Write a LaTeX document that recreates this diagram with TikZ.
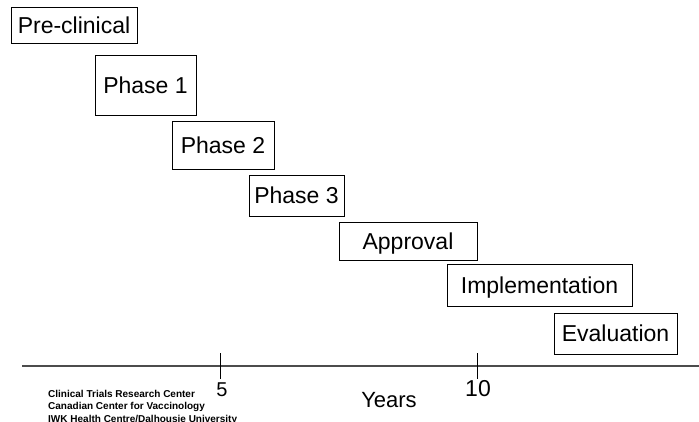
\documentclass[tikz,border=0pt]{standalone}
\usepackage{fontspec}
\setmainfont{Liberation Sans}
\begin{document}
\begin{tikzpicture}[x=1pt,y=-1pt,
  phase/.style={draw=black, line width=0.9pt, inner sep=0pt, text height=16.5pt, text depth=0pt,
    font=\fontsize{23}{27}\selectfont},
  axislbl/.style={inner sep=0pt, font=\fontsize{22}{26}\selectfont},
  footer/.style={inner sep=0pt, anchor=base west, font=\fontsize{10}{12}\selectfont\bfseries},
  axisline/.style={draw=black!70, line width=1.3pt},
  tick/.style={draw=black, line width=0.9pt}]
\useasboundingbox (0,0) rectangle (699,421);
\node[phase, minimum width=126pt, minimum height=36pt] (pre) at (74,25) {Pre-clinical};
\node[phase, minimum width=101pt, minimum height=60pt] (p1) at (145.5,85) {Phase 1};
\node[phase, minimum width=102pt, minimum height=48pt] (p2) at (223,145) {Phase 2};
\node[phase, minimum width=95pt, minimum height=41pt] (p3) at (296.5,195.5) {Phase 3};
\node[phase, minimum width=138pt, minimum height=38pt] (appr) at (408,241) {Approval};
\node[phase, minimum width=185pt, minimum height=42pt] (impl) at (539.5,285) {Implementation};
\node[phase, minimum width=123pt, minimum height=41pt] (eval) at (615.5,333.5) {Evaluation};
% axis
\coordinate (axL) at (22,366);
\coordinate (axR) at (699,366);
\draw[axisline] (axL) -- (axR);
\coordinate (t5a) at (220,353);
\coordinate (t5b) at (220,379);
\coordinate (t10a) at (477,353);
\coordinate (t10b) at (477,379);
\draw[tick] (t5a) -- (t5b);
\draw[tick] (t10a) -- (t10b);
\node[axislbl, font=\fontsize{20}{24}\selectfont] (l5) at (222,390) {5};
\node[axislbl, font=\fontsize{23}{27}\selectfont] (l10) at (478,388.5) {10};
\node[axislbl] (years) at (389,400) {Years};
% footer
\node[footer] (f1) at (48,397) {Clinical Trials Research Center};
\node[footer] (f2) at (48,409.5) {Canadian Center for Vaccinology};
\node[footer] (f3) at (48,422) {IWK Health Centre/Dalhousie University};
\end{tikzpicture}
\end{document}
